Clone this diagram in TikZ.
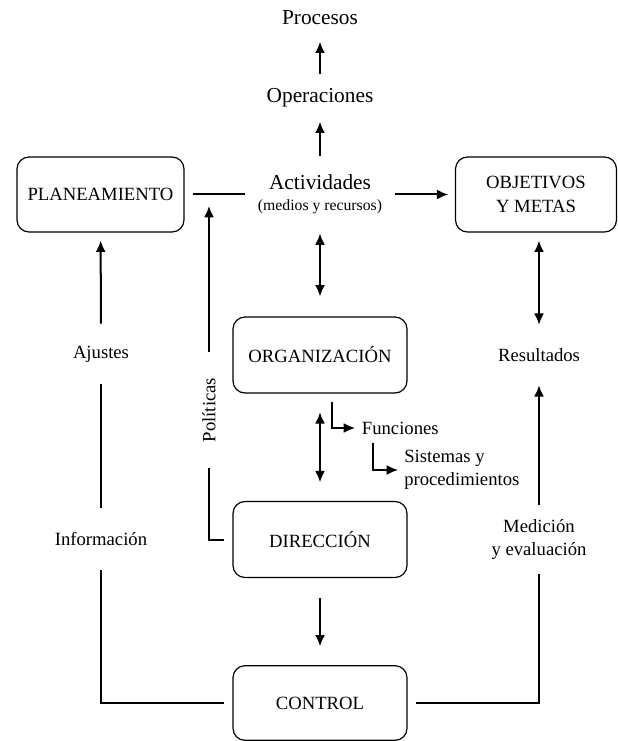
\documentclass[tikz,border=0pt]{standalone}
\usepackage{fontspec}
\setmainfont{Liberation Serif}
\usetikzlibrary{calc,positioning}
\usetikzlibrary{arrows.meta}

\begin{document}
\begin{tikzpicture}[x=0.75pt,y=-0.75pt,
  font=\fontsize{14pt}{17.5pt}\selectfont,
  box/.style={draw,line width=0.9pt,rounded corners=9pt,align=center,inner sep=0pt},
  lab/.style={align=center,inner sep=0pt},
  big/.style={font=\fontsize{16pt}{19pt}\selectfont},
  ln/.style={line width=1.5pt},
  arr/.style={ln,-{Latex[length=8.5pt,width=7.5pt]}},
  dbl/.style={ln,{Latex[length=8.5pt,width=7.5pt]}-{Latex[length=8.5pt,width=7.5pt]}}]
  \useasboundingbox (0,0) rectangle (617,741);
  % cajas
  \node[box,minimum width=125.25pt,minimum height=56.25pt] (plan) at (100.5,194.5) {PLANEAMIENTO};
  \node[box,minimum width=120.75pt,minimum height=56.25pt] (obj) at (536,194.5) {OBJETIVOS\\Y METAS};
  \node[box,minimum width=130.5pt,minimum height=57pt] (org) at (320,355) {ORGANIZACIÓN};
  \node[box,minimum width=130.5pt,minimum height=57pt] (dir) at (320,539.5) {DIRECCIÓN};
  \node[box,minimum width=130.5pt,minimum height=56pt] (ctrl) at (320,703) {CONTROL};
  % textos
  \node[lab,big,minimum height=35pt] (proc) at (320,18) {Procesos};
  \node[lab,big,minimum height=35pt] (oper) at (320,98) {Operaciones};
  \node[lab,minimum width=112pt,minimum height=58pt] (act) at (320,194.5)
    {{\fontsize{16pt}{19pt}\selectfont Actividades}\\[-2pt]{\fontsize{11.8pt}{14pt}\selectfont (medios y recursos)}};
  \node[lab,minimum height=45pt] (aju) at (101,354) {Ajustes};
  \node[lab,minimum height=46.5pt] (info) at (101,539) {Información};
  \node[lab,minimum height=45pt] (res) at (539,355) {Resultados};
  \node[lab,minimum height=52pt] (med) at (539,539.5) {Medición\\y evaluación};
  \node[lab,rotate=90,minimum width=86pt] (pol) at (209,410) {Políticas};
  \node[lab,anchor=west,inner xsep=5pt,minimum height=22.5pt] (fun) at (355,428) {Funciones};
  \node[lab,align=left,anchor=west,inner xsep=4.5pt] (sis) at (398,470) {Sistemas y\\procedimientos};
  % conectores
  \draw[arr] (oper) -- (proc);
  \draw[arr] (act) -- (oper);
  \draw[ln,shorten <=6pt] (plan) -- (act);
  \draw[arr,shorten >=5pt] (act) -- (obj);
  \draw[dbl,shorten >=15pt] (act) -- (org);
  \draw[dbl,shorten <=14pt,shorten >=14pt] (org) -- (dir);
  \draw[arr,shorten <=15pt,shorten >=14pt] (dir) -- (ctrl);
  \draw[arr,shorten <=6pt] ([xshift=9pt]org.south) |- (fun.west);
  \draw[arr] ([xshift=13.5pt]fun.south west) |- (sis.west);
  \draw[ln,shorten <=6pt] (dir.west) -| (pol);
  \draw[arr,shorten >=8.6pt] (pol) -- (pol |- act);
  \draw[ln,shorten <=6pt] (ctrl.west) -| (info);
  \draw[ln] (info) -- (aju);
  \draw[arr,shorten >=6pt] (aju) -- (plan);
  \draw[ln,shorten <=6pt] (ctrl.east) -| (med);
  \draw[arr] (med) -- (res);
  \draw[dbl,shorten >=6pt] (res) -- (res |- obj.south);
\end{tikzpicture}
\end{document}
